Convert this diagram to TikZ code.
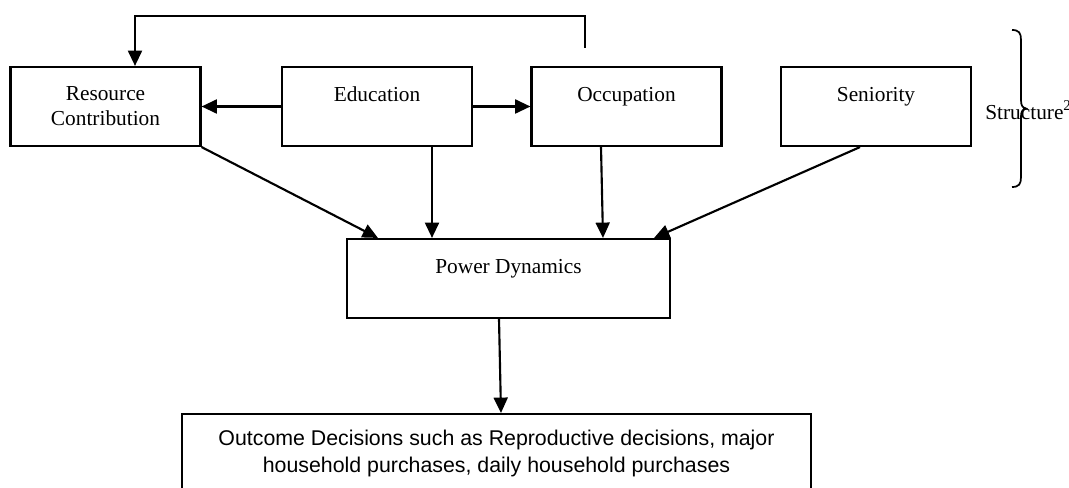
\documentclass[tikz,border=0pt]{standalone}
\usepackage{fontspec}
\setmainfont{Liberation Serif}
\newfontfamily\outcomefont{Liberation Sans}
\usetikzlibrary{arrows.meta}

\tikzset{
  factorbox/.style={draw,line width=1.6pt,minimum width=142.5pt,minimum height=59.25pt,inner sep=0pt,align=center,font=\fontsize{16}{18.75}\selectfont},
  link/.style={line width=1.6pt,-{Triangle[length=11.5pt,width=10.5pt]}}
}

\begin{document}
\begin{tikzpicture}[x=0.75pt,y=-0.75pt]
\useasboundingbox (0,0) rectangle (1069,488);

%%%Structure factors
\node[factorbox] (res) at (105.5,106.5) {Resource\\Contribution};
\node[factorbox] (edu) at (377,106.5) {Education\\~};
\node[factorbox] (occ) at (626.5,106.5) {Occupation\\~};
\node[factorbox] (sen) at (876,106.5) {Seniority\\~};

%%%Power and outcome
\node[factorbox,minimum width=242.25pt] (pd) at (508.5,278.5) {Power Dynamics\\~};
\node[factorbox,minimum width=471.75pt,minimum height=58.5pt,font=\outcomefont\fontsize{16}{20.25}\selectfont] (out) at (496.5,453) {Outcome Decisions such as Reproductive decisions, major\\household purchases, daily household purchases};

%%%Arrows between the factors
\coordinate (loopstart) at (585,48);
\coordinate (looptop) at (585,16);
\draw[link] (loopstart) -- (looptop) -| ([shift={(29.5,0)}]res.north);
\draw[link] (edu.west) -- (res.east);
\draw[link] (edu.east) -- (occ.west);

%%%Arrows into power dynamics
\draw[link] (res.south east) -- ([shift={(32,0)}]pd.north west);
\draw[link] ([shift={(55,0)}]edu.south) -- ([shift={(-76.5,0)}]pd.north);
\draw[link] ([shift={(-25.5,0)}]occ.south) -- ([shift={(94.5,0)}]pd.north);
\draw[link] ([shift={(-16,0)}]sen.south) -- ([shift={(-17,0)}]pd.north east);
\draw[link] ([shift={(-9.5,0)}]pd.south) -- ([shift={(4.5,0)}]out.north);

%%%Brace and label
\draw[line width=1.3pt] (1012,30) .. controls (1019,30) and (1021,33) .. (1021,40) -- (1021,100) .. controls (1021,105) and (1022,107.5) .. (1026,108.5) .. controls (1022,109.5) and (1021,112) .. (1021,117) -- (1021,177) .. controls (1021,184) and (1019,187) .. (1012,187);
\node[anchor=west,inner sep=0pt,font=\fontsize{16}{18.75}\selectfont] (structure) at (985,110) {Structure\textsuperscript{2}};

\end{tikzpicture}
\end{document}
